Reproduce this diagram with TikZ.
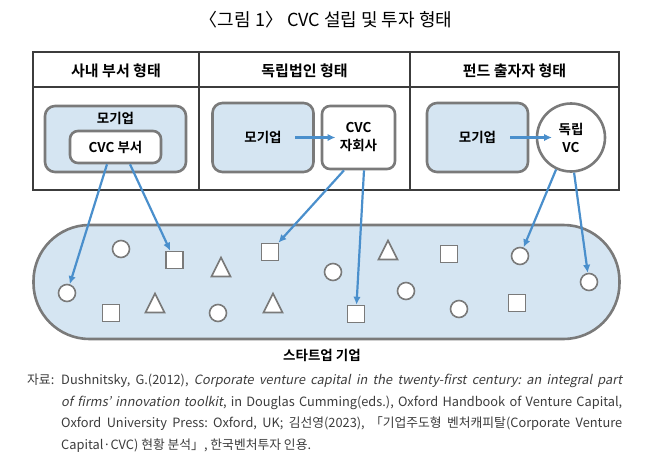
\documentclass[tikz,border=0pt]{standalone}
\usepackage{fontspec}
\setmainfont{Noto Sans CJK KR}[BoldFont={Noto Sans CJK KR Bold}, ItalicFont={Noto Sans CJK KR}, ItalicFeatures={FakeSlant=0.2}]
\usetikzlibrary{arrows.meta}
\frenchspacing

\definecolor{boxgray}{HTML}{7A7A7A}
\definecolor{lineblack}{HTML}{3C3C3C}
\definecolor{lightblue}{HTML}{D5E5F2}
\definecolor{arrowblue}{HTML}{4A8FCC}

\tikzset{
  tableline/.style={draw=lineblack, line width=1.1pt},
  headtext/.style={font=\bfseries\fontsize{15}{17}\selectfont},
  boxtext/.style={font=\bfseries\fontsize{13.5}{18}\selectfont, align=center},
  parentbox/.style={boxtext, draw=boxgray, line width=2.6pt, fill=lightblue, rounded corners=10pt},
  unitbox/.style={boxtext, draw=boxgray, line width=2.6pt, fill=white, rounded corners=8pt},
  vccircle/.style={boxtext, circle, draw=boxgray, line width=2.6pt, fill=white, inner sep=0pt},
  pill/.style={draw=boxgray, line width=2.6pt, fill=lightblue, rounded corners=56pt},
  startshape/.style={draw=boxgray, line width=1.6pt, fill=white},
  startcirc/.style={startshape, circle, minimum size=17pt, inner sep=0pt},
  startsquare/.style={startshape, rectangle, minimum size=17pt, inner sep=0pt},
  investarrow/.style={draw=arrowblue, line width=2.2pt, -{Latex[length=8pt,width=7.5pt]}}
}
\newcommand{\captionfont}{\fontsize{12.8}{21.5}\selectfont\color{lineblack}}
\newcommand{\capline}[1]{\makebox[561pt][s]{#1}}

\begin{document}
\begin{tikzpicture}[x=1pt, y=-1pt]
    \useasboundingbox (0,0) rectangle (656,471);

    %Title
    \node (title) at (326,20) {\fontsize{18}{20}\selectfont 〈그림 1〉 CVC 설립 및 투자 형태};

    %Table frame
    \draw[tableline] (33,52) rectangle (619,190);
    \draw[tableline] (33,87) -- (619,87);
    \draw[tableline] (199,52) -- (199,190);
    \draw[tableline] (410,52) -- (410,190);

    %Headers
    \node[headtext] (head1) at (116,71) {사내 부서 형태};
    \node[headtext] (head2) at (304.5,71) {독립법인 형태};
    \node[headtext] (head3) at (514.5,71) {펀드 출자자 형태};

    %Internal department
    \node[parentbox, minimum width=141pt, minimum height=66pt] (leftparent) at (115.5,139) {};
    \node[boxtext] (leftparenttext) at (115.5,118) {모기업};
    \node[unitbox, minimum width=91pt, minimum height=32pt] (cvcdept) at (115.5,147) {CVC 부서};

    %Subsidiary
    \node[parentbox, minimum width=101pt, minimum height=69pt] (midparent) at (263,137.5) {모기업};
    \node[unitbox, minimum width=73pt, minimum height=63pt] (cvcsub) at (358.5,137.5) {CVC\\자회사};
    \draw[investarrow] ([xshift=32pt]midparent.center) -- ([xshift=-23pt]cvcsub.center);

    %Fund investor
    \node[parentbox, minimum width=101pt, minimum height=69pt] (rightparent) at (477.5,137.5) {모기업};
    \node[vccircle, minimum size=68pt] (indvc) at (571,137.5) {독립\\VC};
    \draw[investarrow] ([xshift=32.5pt]rightparent.center) -- ([xshift=-19pt]indvc.center);

    %Startups
    \draw[pill] (33.5,225) rectangle (619.5,339);
    \foreach \n/\x/\y in {c1/121/249, c2/67/293, c3/218/313, c4/333/272,
                          c5/406/291, c6/459/309, c7/520/256, c8/589/282}
        \node[startcirc] (\n) at (\x,\y) {};
    \foreach \n/\x/\y in {s1/174.5/260, s2/111/313, s3/270/252,
                          s4/356/314, s5/449/254, s6/517/303}
        \node[startsquare] (\n) at (\x,\y) {};
    \foreach \x/\y in {221/267, 155/303, 273/303, 388/250}
        \draw[startshape] (\x,\y) ++(-9.5,9.5) -- ++(9.5,-19) -- ++(9.5,19) -- cycle;
    \node[boxtext] (startuptext) at (322,355) {스타트업 기업};

    %Investments
    \draw[investarrow] ([xshift=-8.5pt]cvcdept.south) -- (c2);
    \draw[investarrow] ([xshift=14.5pt]cvcdept.south) -- (s1);
    \draw[investarrow] ([xshift=-14.5pt]cvcsub.south) -- (s3);
    \draw[investarrow] ([xshift=5.5pt]cvcsub.south) -- (s4);
    \draw[investarrow] (indvc.-115) -- (c7);
    \draw[investarrow] (indvc.-85) -- (c8);

    %Source
    \node[anchor=north west, inner sep=0pt, font=\captionfont] (srclabel) at (27,374) {자료:};
    \node[anchor=north west, inner sep=0pt, font=\captionfont, align=left] (srctext) at (61,374) {%
        \capline{Dushnitsky, G.(2012), \textit{Corporate venture capital in the twenty-first century: an integral part}}\\
        \capline{\textit{of firms’ innovation toolkit}, in Douglas Cumming(eds.), Oxford Handbook of Venture Capital,}\\
        \capline{Oxford University Press: Oxford, UK; 김선영(2023), 「기업주도형 벤처캐피탈(Corporate Venture}\\
        Capital·CVC) 현황 분석」, 한국벤처투자 인용.};

\end{tikzpicture}
\end{document}
